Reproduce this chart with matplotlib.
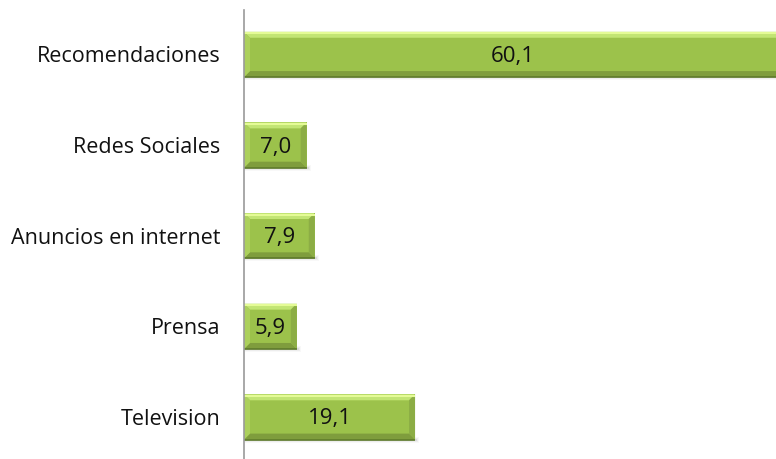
import numpy as np
import matplotlib.pyplot as plt
from matplotlib.patches import Polygon, Rectangle

categories = ["Television", "Prensa", "Anuncios en internet", "Redes Sociales", "Recomendaciones"]
values = [19.1, 5.9, 7.9, 7.0, 60.1]
value_labels = ["19,1", "5,9", "7,9", "7,0", "60,1"]

plt.rcParams['font.family'] = ['Open Sans', 'DejaVu Sans']

fig = plt.figure(figsize=(7.76, 4.59), dpi=100)
ax = fig.add_axes([244 / 776, 0, 1 - 244 / 776, 449 / 459])
ax.set_xlim(0, 59.4)
ax.set_ylim(-0.464, 4.49)

h = 0.5
y = np.arange(len(categories))
bars = ax.barh(y, values, height=h, color="#9cc24b", edgecolor="none", zorder=3)

# pixel -> data helpers for bevel sizes
px_x = 59.4 / (776 - 244)
px_y = (4.49 + 0.464) / 449
bx, by = 6 * px_x, 6 * px_y

for yi, v in zip(y, values):
    y0, y1 = yi - h / 2, yi + h / 2
    # drop shadow
    for k, a in enumerate([0.16, 0.09, 0.05]):
        ax.add_patch(Rectangle((px_x, y0 - (k + 1) * px_y), v + (k + 1) * px_x, (k + 1) * px_y * 2,
                               color="gray", alpha=a, lw=0, zorder=2))
    # bevel edges
    ax.add_patch(Polygon([(0, y1), (v, y1), (v - bx, y1 - by), (bx, y1 - by)],
                         closed=True, color="#c2e574", lw=0, zorder=4))
    ax.add_patch(Polygon([(0, y0), (v, y0), (v - bx, y0 + by), (bx, y0 + by)],
                         closed=True, color="#7f9d3d", lw=0, zorder=4))
    ax.add_patch(Polygon([(0, y0), (0, y1), (bx, y1 - by), (bx, y0 + by)],
                         closed=True, color="#acd05c", lw=0, zorder=4))
    ax.add_patch(Polygon([(v, y0), (v, y1), (v - bx, y1 - by), (v - bx, y0 + by)],
                         closed=True, color="#8cad45", lw=0, zorder=4))
    ax.plot([0, v], [y1 - 1.5 * px_y] * 2, color="#e4fb96", lw=1.5, zorder=5, solid_capstyle="butt")
    ax.plot([0, v], [y0, y0], color="#5e7a2b", lw=1.2, zorder=5, solid_capstyle="butt")

for b, lab in zip(bars, value_labels):
    ax.text(b.get_width() / 2, b.get_y() + b.get_height() / 2 - 2 * px_y, lab,
            ha="center", va="center", fontsize=16, color="#111111", zorder=6)

ax.set_yticks(y)
ax.set_yticklabels(categories, fontsize=15.5, color="#111111")
ax.tick_params(axis="y", length=0, pad=17)
ax.set_xticks([])
for s in ["top", "right", "bottom"]:
    ax.spines[s].set_visible(False)
ax.spines["left"].set_color("#9a9a9a")
ax.spines["left"].set_linewidth(1.2)
ax.spines["left"].set_zorder(7)

fig.savefig("out.png", dpi=100)
